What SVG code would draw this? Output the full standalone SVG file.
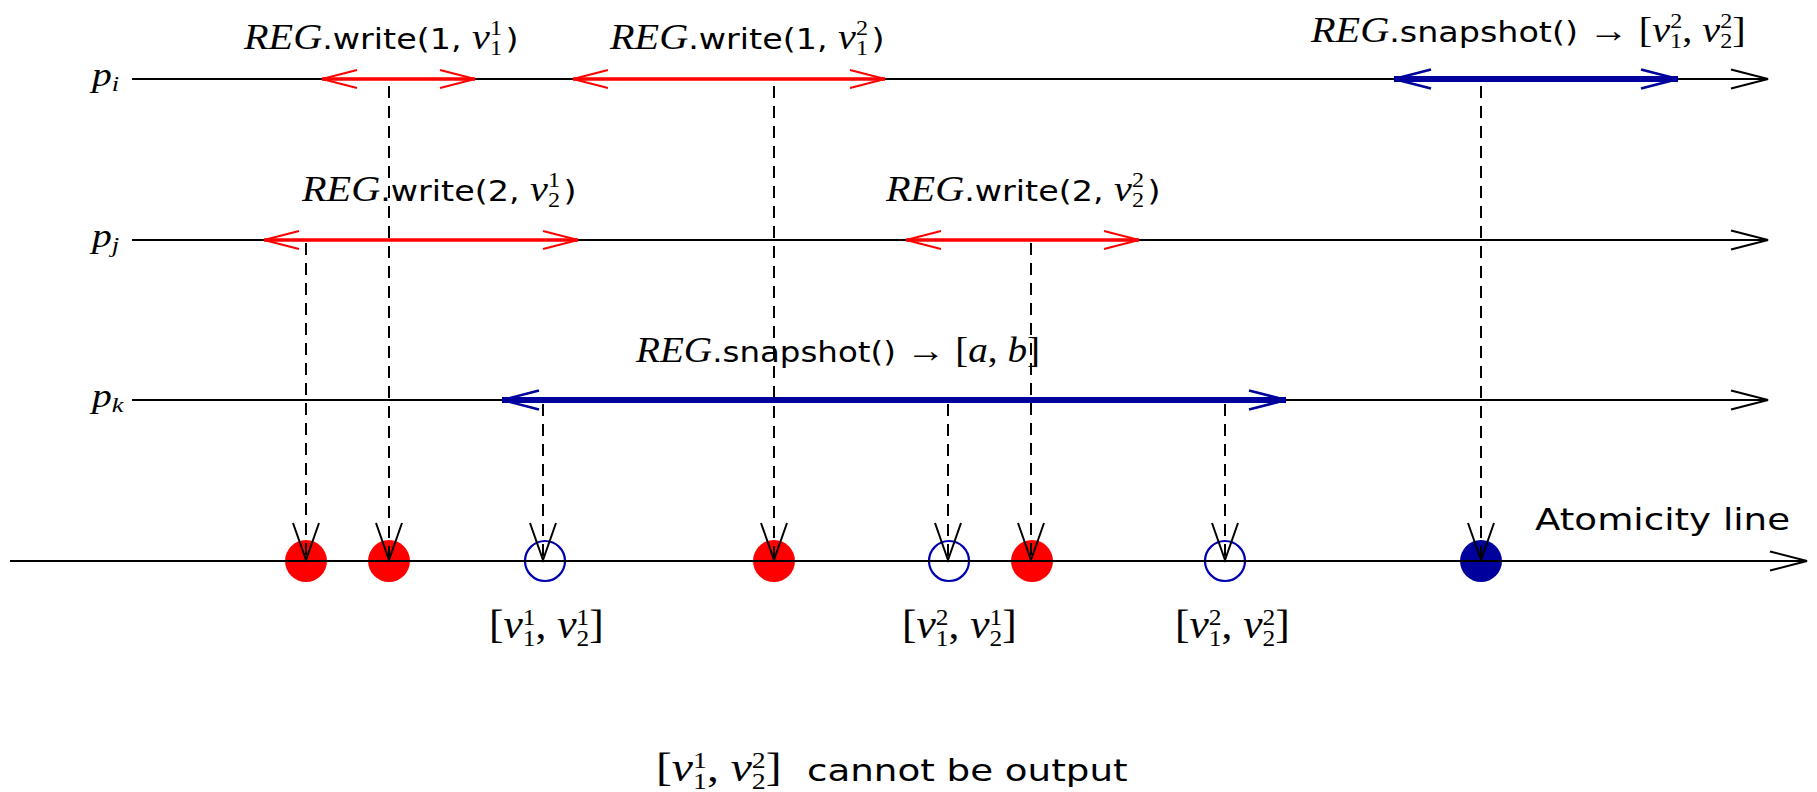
<svg xmlns="http://www.w3.org/2000/svg" width="1817" height="792" viewBox="0 0 1817 792">
<defs>
<style>
.ln{stroke:#000;stroke-width:2;fill:none}
.red{stroke:#ff0000;stroke-width:3.5;fill:none}
.blu{stroke:#00009c;stroke-width:6;fill:none}
.dash{stroke:#000;stroke-width:2;fill:none;stroke-dasharray:12 8}
.rdot{fill:#ff0000}
.bdot{fill:#00009c}
.bcirc{fill:none;stroke:#0000b0;stroke-width:2.2}
text{fill:#000}
.mi{font-family:"Liberation Serif","DejaVu Serif",serif;font-style:italic;font-size:35px}
.rm{font-family:"Liberation Serif","DejaVu Serif",serif;font-size:35px}
.sf{font-family:"DejaVu Sans",sans-serif;font-size:29px}
.ix{font-family:"Liberation Serif","DejaVu Serif",serif;font-size:21px}
.pl{font-family:"Liberation Serif","DejaVu Serif",serif;font-style:italic;font-size:33px}
.ps{font-family:"Liberation Serif","DejaVu Serif",serif;font-style:italic;font-size:22px}
.big .mi,.big .rm{font-size:41px}
.big .ix{font-size:24px}
.bsf{font-family:"DejaVu Sans",sans-serif;font-size:31px}
</style>
<marker id="mk" viewBox="-40 -15 42 30" refX="0" refY="0" markerWidth="42" markerHeight="30" markerUnits="userSpaceOnUse" orient="auto-start-reverse" overflow="visible"><path d="M-37,-9.5 L0,0 L-37,9.5" fill="none" stroke="#000" stroke-width="2"/></marker>
<marker id="mr" viewBox="-40 -15 42 30" refX="0" refY="0" markerWidth="42" markerHeight="30" markerUnits="userSpaceOnUse" orient="auto-start-reverse" overflow="visible"><path d="M-35,-9 L0,0 L-35,9" fill="none" stroke="#ff0000" stroke-width="2"/></marker>
<marker id="mb" viewBox="-40 -15 42 30" refX="0" refY="0" markerWidth="42" markerHeight="30" markerUnits="userSpaceOnUse" orient="auto-start-reverse" overflow="visible"><path d="M-37,-9.5 L0,0 L-37,9.5" fill="none" stroke="#00009c" stroke-width="2.5"/></marker>
<marker id="mv" viewBox="-40 -15 42 30" refX="0" refY="0" markerWidth="42" markerHeight="30" markerUnits="userSpaceOnUse" orient="auto" overflow="visible"><path d="M-37,-13 L0,0 L-37,13" fill="none" stroke="#000" stroke-width="2" stroke-dasharray="none"/></marker>
</defs>
<rect width="1817" height="792" fill="#fff"/>

<g id="process-pi">
<path class="ln" d="M132,79 H1768" marker-end="url(#mk)"/>
<g transform="translate(92,86) scale(1.2,1)"><text><tspan class="pl">p</tspan><tspan class="ps" dy="5">i</tspan></text></g>
</g>
<g id="process-pj">
<path class="ln" d="M132,240 H1768" marker-end="url(#mk)"/>
<g transform="translate(92,247) scale(1.2,1)"><text><tspan class="pl">p</tspan><tspan class="ps" dy="5">j</tspan></text></g>
</g>
<g id="process-pk">
<path class="ln" d="M132,400 H1768" marker-end="url(#mk)"/>
<g transform="translate(92,407) scale(1.2,1)"><text><tspan class="pl">p</tspan><tspan class="ps" dy="5">k</tspan></text></g>
</g>

<g id="op-write-1-v11">
<path class="red" d="M322,79 H475" marker-start="url(#mr)" marker-end="url(#mr)"/>
<g transform="translate(244,49) scale(1.15,1)"><text><tspan class="mi">REG</tspan><tspan class="sf">.write(1, </tspan><tspan class="mi">v</tspan><tspan class="ix" dy="-14">1</tspan><tspan class="ix" dx="-10.5" dy="20">1</tspan><tspan class="sf" dx="3" dy="-6">)</tspan></text></g>
</g>
<g id="op-write-1-v12">
<path class="red" d="M573,79 H885" marker-start="url(#mr)" marker-end="url(#mr)"/>
<g transform="translate(610,49) scale(1.15,1)"><text><tspan class="mi">REG</tspan><tspan class="sf">.write(1, </tspan><tspan class="mi">v</tspan><tspan class="ix" dy="-14">2</tspan><tspan class="ix" dx="-10.5" dy="20">1</tspan><tspan class="sf" dx="3" dy="-6">)</tspan></text></g>
</g>
<g id="op-write-2-v21">
<path class="red" d="M264,240 H578" marker-start="url(#mr)" marker-end="url(#mr)"/>
<g transform="translate(302,201) scale(1.15,1)"><text><tspan class="mi">REG</tspan><tspan class="sf">.write(2, </tspan><tspan class="mi">v</tspan><tspan class="ix" dy="-14">1</tspan><tspan class="ix" dx="-10.5" dy="20">2</tspan><tspan class="sf" dx="3" dy="-6">)</tspan></text></g>
</g>
<g id="op-write-2-v22">
<path class="red" d="M906,240 H1139" marker-start="url(#mr)" marker-end="url(#mr)"/>
<g transform="translate(886,201) scale(1.15,1)"><text><tspan class="mi">REG</tspan><tspan class="sf">.write(2, </tspan><tspan class="mi">v</tspan><tspan class="ix" dy="-14">2</tspan><tspan class="ix" dx="-10.5" dy="20">2</tspan><tspan class="sf" dx="3" dy="-6">)</tspan></text></g>
</g>
<g id="op-snapshot-pi">
<path class="blu" d="M1394,79 H1678" marker-start="url(#mb)" marker-end="url(#mb)"/>
<g transform="translate(1311,42) scale(1.15,1)"><text><tspan class="mi">REG</tspan><tspan class="sf">.snapshot() </tspan><tspan class="rm">→ [</tspan><tspan class="mi">v</tspan><tspan class="ix" dy="-14">2</tspan><tspan class="ix" dx="-10.5" dy="20">1</tspan><tspan class="rm" dy="-6">, </tspan><tspan class="mi">v</tspan><tspan class="ix" dy="-14">2</tspan><tspan class="ix" dx="-10.5" dy="20">2</tspan><tspan class="rm" dy="-6">]</tspan></text></g>
</g>
<g id="op-snapshot-pk">
<path class="blu" d="M502,400 H1286" marker-start="url(#mb)" marker-end="url(#mb)"/>
<g transform="translate(636,362) scale(1.12,1)"><text><tspan class="mi">REG</tspan><tspan class="sf">.snapshot() </tspan><tspan class="rm">→ [</tspan><tspan class="mi">a</tspan><tspan class="rm">, </tspan><tspan class="mi">b</tspan><tspan class="rm">]</tspan></text></g>
</g>

<g id="points">
<circle class="rdot" cx="306" cy="561" r="21"/>
<circle class="rdot" cx="389" cy="561" r="21"/>
<circle class="bcirc" cx="545" cy="561" r="20"/>
<circle class="rdot" cx="774" cy="561" r="21"/>
<circle class="bcirc" cx="949" cy="561" r="20"/>
<circle class="rdot" cx="1032" cy="561" r="21"/>
<circle class="bcirc" cx="1225" cy="561" r="20"/>
<circle class="bdot" cx="1481" cy="561" r="21"/>
</g>

<g id="atomicity-line">
<path class="ln" d="M10,561 H1807" marker-end="url(#mk)"/>
<g transform="translate(1535,530) scale(1.2,1)"><text class="bsf">Atomicity line</text></g>
</g>

<g id="connectors">
<path class="dash" d="M306,243 V560" marker-end="url(#mv)"/>
<path class="dash" d="M389,86 V560" marker-end="url(#mv)"/>
<path class="dash" d="M543,404 V560" marker-end="url(#mv)"/>
<path class="dash" d="M774,86 V560" marker-end="url(#mv)"/>
<path class="dash" d="M948,404 V560" marker-end="url(#mv)"/>
<path class="dash" d="M1031,243 V560" marker-end="url(#mv)"/>
<path class="dash" d="M1225,404 V560" marker-end="url(#mv)"/>
<path class="dash" d="M1481,86 V560" marker-end="url(#mv)"/>
</g>

<g id="value-labels" class="big">
<g transform="translate(489,638) scale(1.06,1)"><text><tspan class="rm">[</tspan><tspan class="mi">v</tspan><tspan class="ix" dy="-13">1</tspan><tspan class="ix" dx="-12" dy="21">1</tspan><tspan class="rm" dy="-8">, </tspan><tspan class="mi">v</tspan><tspan class="ix" dy="-13">1</tspan><tspan class="ix" dx="-12" dy="21">2</tspan><tspan class="rm" dy="-8">]</tspan></text></g>
<g transform="translate(902,638) scale(1.06,1)"><text><tspan class="rm">[</tspan><tspan class="mi">v</tspan><tspan class="ix" dy="-13">2</tspan><tspan class="ix" dx="-12" dy="21">1</tspan><tspan class="rm" dy="-8">, </tspan><tspan class="mi">v</tspan><tspan class="ix" dy="-13">1</tspan><tspan class="ix" dx="-12" dy="21">2</tspan><tspan class="rm" dy="-8">]</tspan></text></g>
<g transform="translate(1175,638) scale(1.06,1)"><text><tspan class="rm">[</tspan><tspan class="mi">v</tspan><tspan class="ix" dy="-13">2</tspan><tspan class="ix" dx="-12" dy="21">1</tspan><tspan class="rm" dy="-8">, </tspan><tspan class="mi">v</tspan><tspan class="ix" dy="-13">2</tspan><tspan class="ix" dx="-12" dy="21">2</tspan><tspan class="rm" dy="-8">]</tspan></text></g>
</g>

<g id="caption">
<g class="big" transform="translate(656,781) scale(1.16,1)"><text><tspan class="rm">[</tspan><tspan class="mi">v</tspan><tspan class="ix" dy="-13">1</tspan><tspan class="ix" dx="-12" dy="21">1</tspan><tspan class="rm" dy="-8">, </tspan><tspan class="mi">v</tspan><tspan class="ix" dy="-13">2</tspan><tspan class="ix" dx="-12" dy="21">2</tspan><tspan class="rm" dy="-8">]</tspan></text></g>
<g transform="translate(807,781) scale(1.2,1)"><text class="bsf">cannot be output</text></g>
</g>
</svg>
